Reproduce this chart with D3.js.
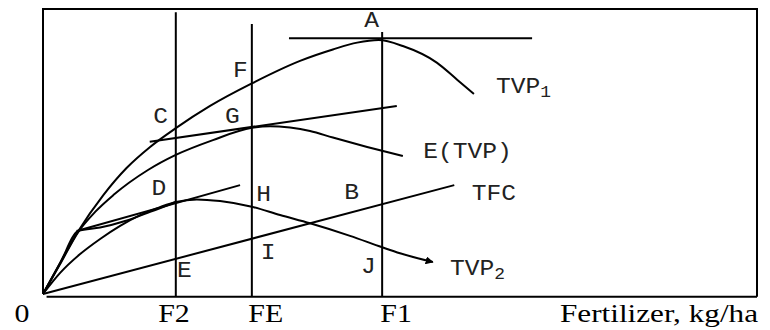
<!DOCTYPE html>
<html><head><meta charset="utf-8">
<script src="https://cdn.jsdelivr.net/npm/d3@7"></script>
<style>body{margin:0;background:#fff}svg{display:block}</style>
</head><body>
<svg id="c" width="770" height="330"></svg>
<script>
// ---- data (fertilizer units 0-200, value units 0-100) ----
const markNames = ["F2", "FE", "F1"];
const markLevels = [37.2, 58.5, 95.0];
const markTops = [98.9, 94.7, 91.9];
const tickNames = ["0", "F2", "FE", "F1"];
const tickAt = [-5.9, 36.7, 62.4, 98.9];
const axisTitle = "Fertilizer, kg/ha";

const tvp1 = [[0,0],[4.8,10.9],[9.9,22.1],[16.9,34.7],[23.4,44.2],[30.0,51.6],[37.2,58.2],[46.8,66.0],[58.5,73.9],[72.0,81.8],[81.2,85.8],[88.0,88.2],[94.0,89.1],[100.8,87.0],[110.4,81.1],[116.0,75.2],[120.7,70.2]];
const expTvp = [[0,0],[4.8,10.5],[9.9,21.8],[14.6,28.8],[19.7,34.7],[29.4,43.5],[37.2,48.8],[47.6,54.0],[58.5,58.3],[63.6,58.9],[69.2,58.4],[74.8,57.2],[81.2,54.9],[90.8,51.6],[100.8,48.4]];
const tvp2 = [[0,0],[4.8,7.4],[10.4,14.0],[16.0,19.3],[21.6,23.9],[27.2,27.7],[32.8,30.5],[37.2,32.3],[43.1,33.2],[49.6,32.6],[58.5,30.6],[66.4,27.7],[74.8,24.8],[86.0,20.4],[95.0,16.4],[100.0,14.3],[109.2,11.2]];
const tvp2Trace = [[0,0],[4.8,10.9],[9.9,22.1],[16.0,23.3],[23.0,25.6],[30.0,28.8],[37.2,32.3]];
const tfc = [[0,0],[115.2,38.2]];
const tangentD = [[9.4,22.1],[55.2,38.2]];
const tangentG = [[29.9,53.4],[99.1,66.0]];
const tangentA = [[68.9,89.7],[137.0,89.7]];

const pointNames = ["A","F","C","G","D","H","B","I","E","J"];
const pointAt = [[90.0,93.8],[53.2,76.2],[30.9,59.9],[51.0,60.1],[30.4,34.7],[59.7,32.7],[84.4,33.3],[61.0,12.3],[37.5,5.9],[89.1,7.3]];
const curveNames = [["TVP","1"],["E(TVP)",""],["TFC",""],["TVP","2"]];
const curveNameAt = [[126.9,70.6],[106.5,47.6],[120.1,33.0],[114.0,6.5]];

// ---- drawing ----
const svg = d3.select("#c");
const x = d3.scaleLinear().domain([0,200]).range([43,757]);
const y = d3.scaleLinear().domain([0,100]).range([294,9]);

svg.append("defs").append("marker")
  .attr("id","arr").attr("viewBox","0 0 10 10").attr("refX",9).attr("refY",5)
  .attr("markerWidth",4).attr("markerHeight",4).attr("orient","auto")
  .append("path").attr("d","M0,0L10,5L0,10z").attr("fill","#000");

const straight = d3.line().x(d=>x(d[0])).y(d=>y(d[1]));
const smooth = d3.line().x(d=>x(d[0])).y(d=>y(d[1])).curve(d3.curveMonotoneX);

const g = svg.append("g").attr("fill","none").attr("stroke","#000").attr("stroke-width",2);

// frame
const bottomV = -0.95;
g.append("path").attr("d", straight([[0,0.3],[0,100],[200,100],[200,bottomV]])).attr("stroke-linejoin","miter");
g.append("path").attr("d", straight([[1.0,bottomV],[200,bottomV]]));

// vertical levels
markLevels.forEach((m,i)=>{
  g.append("path").attr("d", straight([[m,markTops[i]],[m,bottomV]]));
});

// tangents & lines
[tangentA, tangentG, tangentD, tfc].forEach(l=>g.append("path").attr("d", straight(l)));

// curves
[tvp1, expTvp, tvp2Trace].forEach(c=>g.append("path").attr("d", smooth(c)));
g.append("path").attr("d", smooth(tvp2)).attr("marker-end","url(#arr)");

// point labels
const mono = "'Liberation Mono', 'Courier New', monospace";
const serif = "'Liberation Serif', 'Times New Roman', serif";
pointNames.forEach((n,i)=>{
  svg.append("text")
    .attr("transform",`translate(${x(pointAt[i][0])},${y(pointAt[i][1])}) scale(1.12,1)`)
    .attr("font-family",mono).attr("font-size",22).attr("fill","#222").text(n);
});
curveNames.forEach((n,i)=>{
  const t = svg.append("text")
    .attr("transform",`translate(${x(curveNameAt[i][0])},${y(curveNameAt[i][1])}) scale(1.12,1)`)
    .attr("font-family",mono).attr("font-size",22).attr("fill","#222");
  t.append("tspan").text(n[0]);
  if (n[1]) t.append("tspan").attr("dy",4).attr("font-size",16).text(n[1]);
});

// axis labels
const axisY = y(-9.7);
tickNames.forEach((n,i)=>{
  svg.append("text")
    .attr("transform",`translate(${x(tickAt[i])},${axisY}) scale(1.15,1)`)
    .attr("text-anchor","middle").attr("font-family",serif).attr("font-size",26).attr("fill","#000").text(n);
});
svg.append("text").attr("x",x(200)+1).attr("y",axisY)
  .attr("text-anchor","end").attr("font-family",serif).attr("font-size",26)
  .attr("textLength",198).attr("lengthAdjust","spacingAndGlyphs").text(axisTitle);
</script>
</body></html>
